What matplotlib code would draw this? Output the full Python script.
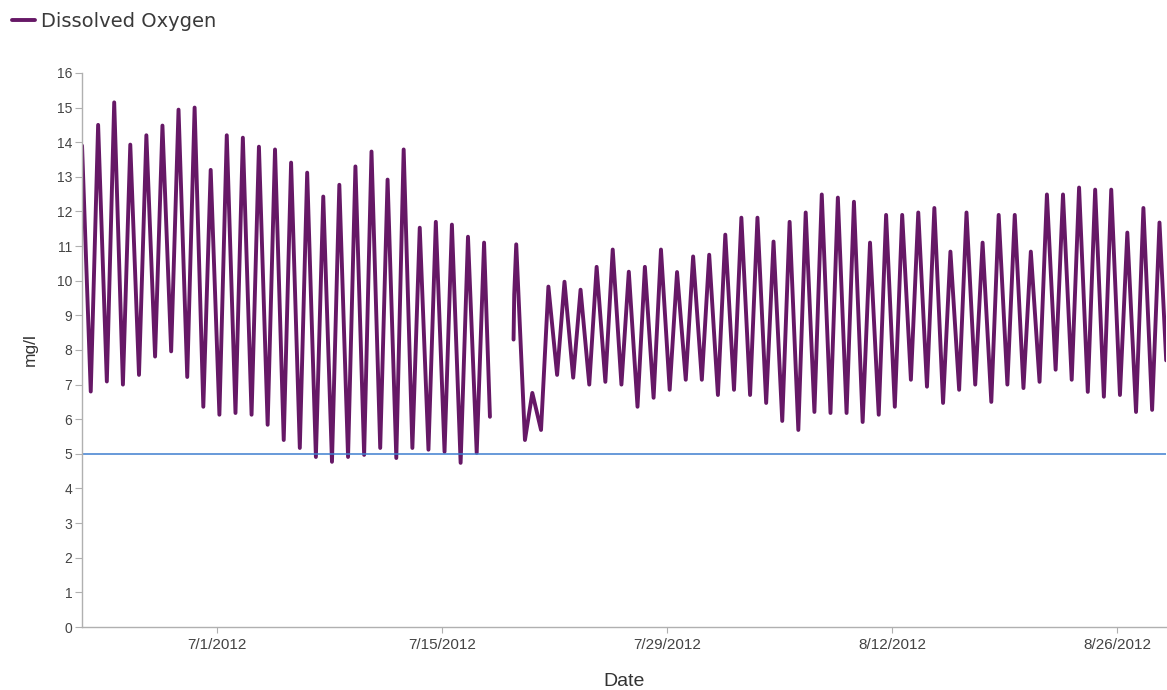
import matplotlib
matplotlib.use("Agg")
import matplotlib.pyplot as plt
import pandas as pd
import numpy as np

plt.rcParams['font.family'] = ['Liberation Sans', 'DejaVu Sans']

# Daily dissolved oxygen extremes (mg/l)
# Record 1: 6/22/2012 - 7/17/2012
rec1_start = ("2012-06-22 15:00", 13.9)
rec1_days = pd.date_range("2012-06-23", "2012-07-17", freq="D")
rec1_min = [6.8, 7.09, 7.0, 7.28, 7.81, 7.96, 7.22, 6.36, 6.13, 6.18, 6.13, 5.84,
            5.4, 5.17, 4.91, 4.77, 4.91, 4.97, 5.17, 4.88, 5.17, 5.12, 5.06, 4.74, 5.03]
rec1_max = [14.5, 15.15, 13.93, 14.2, 14.48, 14.94, 15.0, 13.2, 14.2, 14.13, 13.87, 13.79,
            13.41, 13.12, 12.43, 12.77, 13.3, 13.73, 12.92, 13.79, 11.53, 11.7, 11.62, 11.27, 11.1]
rec1_end = ("2012-07-17 23:45", 6.07)

# Record 2: 7/19/2012 - 8/29/2012
rec2_start = [("2012-07-19 11:00", 8.3), ("2012-07-19 12:00", 9.6), ("2012-07-19 15:00", 11.05)]
rec2_days = pd.date_range("2012-07-20", "2012-08-28", freq="D")
rec2_min = [5.4, 5.69, 7.28, 7.2, 7.0, 7.08, 7.0, 6.36, 6.62, 6.85, 7.14, 7.14,
            6.7, 6.85, 6.7, 6.47, 5.95, 5.69, 6.21, 6.18, 6.18, 5.92, 6.13, 6.36, 7.14,
            6.94, 6.47, 6.85, 7.0, 6.5, 7.0, 6.9, 7.08, 7.43, 7.14, 6.79, 6.65, 6.7, 6.21, 6.27]
rec2_max = [6.76, 9.83, 9.97, 9.74, 10.4, 10.9, 10.26, 10.4, 10.9, 10.25, 10.7, 10.75,
            11.33, 11.82, 11.82, 11.13, 11.7, 11.97, 12.49, 12.4, 12.28, 11.1, 11.9, 11.9, 11.97,
            12.1, 10.84, 11.97, 11.1, 11.9, 11.9, 10.84, 12.49, 12.49, 12.69, 12.63, 12.63,
            11.39, 12.1, 11.68]
rec2_end = ("2012-08-29 01:00", 7.7)

threshold = 5.0
tick_dates = ["2012-07-01", "2012-07-15", "2012-07-29", "2012-08-12", "2012-08-26"]
tick_labels = ["7/1/2012", "7/15/2012", "7/29/2012", "8/12/2012", "8/26/2012"]

MIN_HOUR = pd.Timedelta(hours=4)    # early-morning low
MAX_HOUR = pd.Timedelta(hours=15)   # afternoon high


def build_series(head, days, lows, highs, tail):
    times, vals = [], []
    for t, v in head:
        times.append(pd.Timestamp(t))
        vals.append(v)
    for d, lo, hi in zip(days, lows, highs):
        times += [d + MIN_HOUR, d + MAX_HOUR]
        vals += [lo, hi]
    times.append(pd.Timestamp(tail[0]))
    vals.append(tail[1])
    return times, vals


t1, v1 = build_series([rec1_start], rec1_days, rec1_min, rec1_max, rec1_end)
t2, v2 = build_series(rec2_start, rec2_days, rec2_min, rec2_max, rec2_end)

fig = plt.figure(figsize=(11.67, 6.9), dpi=100)
ax = fig.add_axes([0.0703, 0.0913, 0.929, 0.803])

line_color = "#661866"
style = dict(color=line_color, lw=2.8, solid_joinstyle="round", solid_capstyle="round")
ax.plot(t1, v1, label="Dissolved Oxygen", **style)
ax.plot(t2, v2, **style)
ax.axhline(threshold, color="#3f7fcf", lw=1.1)

ax.set_ylim(0, 16)
ax.set_xlim(pd.Timestamp(rec1_start[0]), pd.Timestamp(rec2_end[0]))
ax.set_yticks(np.arange(0, 17, 1))
ax.set_xticks([pd.Timestamp(d) for d in tick_dates])
ax.set_xticklabels(tick_labels)

for s in ("top", "right"):
    ax.spines[s].set_visible(False)
for s in ("left", "bottom"):
    ax.spines[s].set_color("#b0b0b0")
    ax.spines[s].set_linewidth(1.0)

ax.tick_params(axis="y", length=5, color="#b0b0b0", labelsize=10, labelcolor="#444444", pad=2)
ax.tick_params(axis="x", length=4, color="#b0b0b0", labelsize=11, labelcolor="#444444", pad=4)

ax.set_xlabel("Date", fontsize=14, color="#333333", labelpad=15)
ax.set_ylabel("mg/l", fontsize=12.5, color="#333333", labelpad=14)

leg = fig.legend(loc="upper left", bbox_to_anchor=(0.0, 1.0), frameon=False,
                 prop={"family": "DejaVu Sans", "size": 14},
                 handlelength=1.2, handletextpad=0.3, borderaxespad=0.2)
for txt in leg.get_texts():
    txt.set_color("#3a3a3a")

fig.savefig("out.png", dpi=100)
